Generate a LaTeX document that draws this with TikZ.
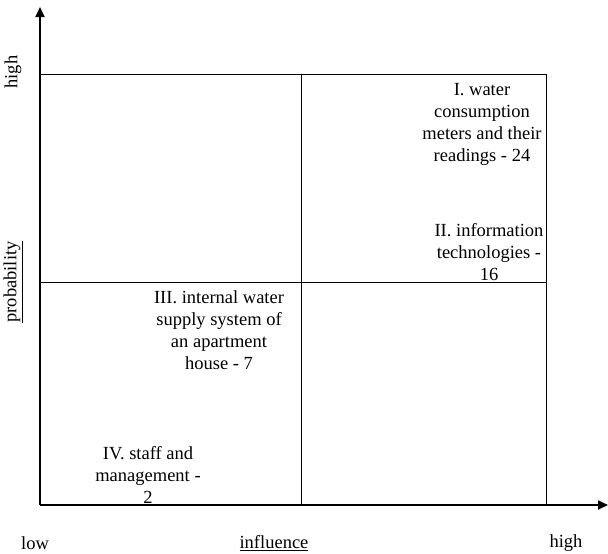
\documentclass[tikz,border=0pt]{standalone}
\usepackage{fontspec}
\setmainfont{Liberation Serif}
\usetikzlibrary{arrows.meta}
\tikzset{
  axis/.style={line width=1.7pt,-{Triangle[length=10pt,width=9pt]}},
  grid line/.style={line width=1pt},
  lbl/.style={font=\fontsize{18.5}{22}\selectfont,align=center,inner sep=0pt},
}
\begin{document}
\begin{tikzpicture}[x=1pt,y=-1pt]
\useasboundingbox (0,0) rectangle (608,554);
\coordinate (O) at (40,505);
\coordinate (ytip) at (40,7);
\coordinate (xtip) at (608,505);
\coordinate (tl) at (40,74);
\coordinate (tm) at (301,74);
\coordinate (tr) at (546,74);
\coordinate (ml) at (40,282);
\coordinate (mr) at (546,282);
\coordinate (bm) at (301,505);
\coordinate (br) at (546,505);
% grid
\draw[grid line] (tl) -- (tr) -- (br);
\draw[grid line] (tm) -- (bm);
\draw[grid line] (ml) -- (mr);
% axes
\draw[axis] (O) -- (ytip);
\draw[axis] (O) -- (xtip);
% axis labels
\node[lbl,rotate=90] (yhigh) at (13,72) {high};
\node[lbl,rotate=90] (yprob) at (13,282) {\underline{probability}};
\node[lbl] (xlow) at (35,543) {low};
\node[lbl] (xinf) at (274,543) {\underline{influence}};
\node[lbl] (xhigh) at (566,543) {high};
% quadrant texts
\node[lbl] (q1) at (482,124) {I. water\\consumption\\meters and their\\readings - 24};
\node[lbl] (q2) at (489,252) {II. information\\technologies -\\16};
\node[lbl] (q3) at (219,330) {III. internal water\\supply system of\\an apartment\\house - 7};
\node[lbl] (q4) at (148,475) {IV. staff and\\management -\\2};
\end{tikzpicture}
\end{document}
